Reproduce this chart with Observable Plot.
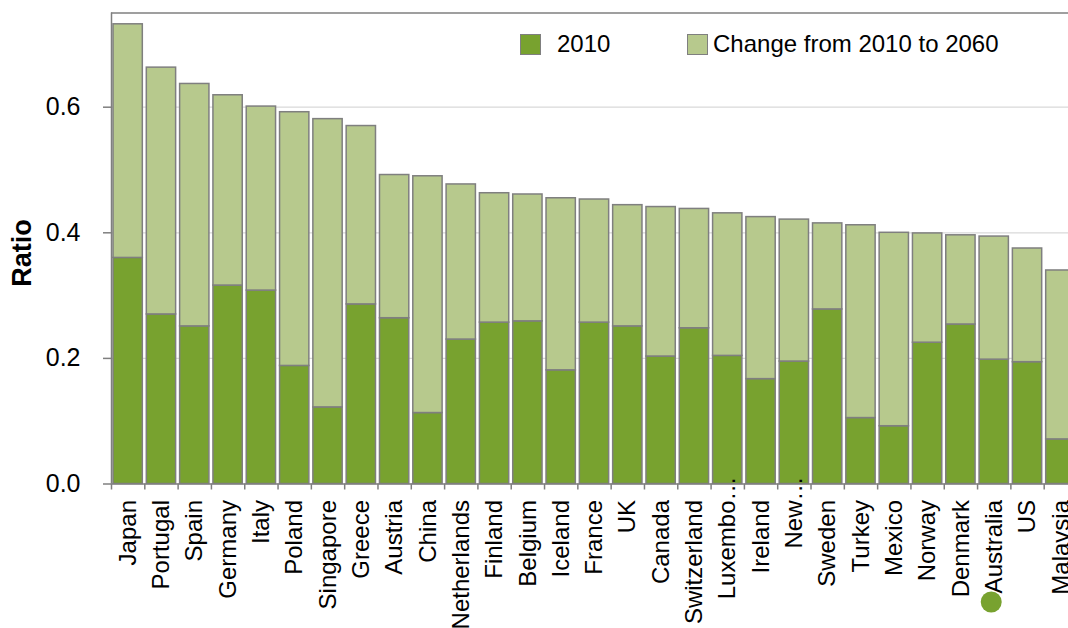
<!DOCTYPE html>
<html>
<head>
<meta charset="utf-8">
<script src="https://cdn.jsdelivr.net/npm/d3@7"></script>
<script src="https://cdn.jsdelivr.net/npm/@observablehq/plot@0.6"></script>
<style>
  html, body { margin: 0; padding: 0; overflow: hidden; background: #fff; }
  body { width: 1068px; height: 628px; position: relative; font-family: "Liberation Sans", Arial, sans-serif; }
  #chart { position: absolute; left: 0; top: 0; width: 1080px; }
  #chart svg { max-width: none !important; }
  .legend { position: absolute; top: 0; left: 0; width: 1068px; height: 60px; font-size: 24px; color: #000; }
  .legend .sw { position: absolute; top: 34px; width: 19px; height: 19px; border: 1.5px solid #7f7f7f; }
  .legend .lbl { position: absolute; top: 29px; line-height: 30px; white-space: nowrap; }
</style>
</head>
<body>
<div id="chart"></div>
<div class="legend">
  <div class="sw" style="left:520px;background:#78a22f"></div>
  <div class="lbl" style="left:557px">2010</div>
  <div class="sw" style="left:687px;background:#b7c98d"></div>
  <div class="lbl" style="left:713px">Change from 2010 to 2060</div>
</div>
<script>
// Countries, in the order they are ranked
const countries = ["Japan", "Portugal", "Spain", "Germany", "Italy", "Poland", "Singapore", "Greece",
  "Austria", "China", "Netherlands", "Finland", "Belgium", "Iceland", "France", "UK", "Canada",
  "Switzerland", "Luxembo…", "Ireland", "New…", "Sweden", "Turkey", "Mexico", "Norway", "Denmark",
  "Australia", "US", "Malavsia"];

// Ratio in 2010
const ratio2010 = [0.360, 0.270, 0.251, 0.316, 0.308, 0.188, 0.122, 0.286,
  0.264, 0.113, 0.230, 0.257, 0.259, 0.181, 0.257, 0.251, 0.203,
  0.248, 0.204, 0.167, 0.195, 0.278, 0.105, 0.092, 0.225, 0.254,
  0.198, 0.194, 0.071];

// Change in the ratio from 2010 to 2060
const change2010to2060 = [0.372, 0.393, 0.386, 0.303, 0.293, 0.404, 0.459, 0.284,
  0.228, 0.377, 0.247, 0.206, 0.202, 0.274, 0.196, 0.193, 0.238,
  0.190, 0.227, 0.258, 0.226, 0.137, 0.307, 0.308, 0.174, 0.142,
  0.196, 0.181, 0.269];

const yTicks = [0, 0.2, 0.4, 0.6];
const highlighted = ["Australia"];

const dark = "#78a22f";
const light = "#b7c98d";
const edge = "#7f7f7f";
const font = "'Liberation Sans', Arial, sans-serif";

const rows = countries.map((country, i) => ({
  country, i, base: ratio2010[i], top: ratio2010[i] + change2010to2060[i]
}));

const chart = Plot.plot({
  width: 1077,
  height: 628,
  marginLeft: 111,
  marginRight: 0,
  marginTop: 12.5,
  marginBottom: 144.5,
  style: { fontFamily: font, color: "#000", background: "transparent", maxWidth: "none" },
  x: { domain: [0, countries.length], axis: null },
  y: { domain: [0, 0.75], axis: null },
  marks: [
    Plot.gridY([0.2, 0.4, 0.6], { stroke: "#d9d9d9", strokeOpacity: 1, strokeWidth: 1.3 }),
    // 2010 level
    Plot.rectY(rows, {
      x1: "i", x2: d => d.i + 1, y1: 0, y2: "base",
      fill: dark, stroke: edge, strokeWidth: 1.5, insetLeft: 2, insetRight: 2
    }),
    // increase up to 2060
    Plot.rectY(rows, {
      x1: "i", x2: d => d.i + 1, y1: "base", y2: "top",
      fill: light, stroke: edge, strokeWidth: 1.5, insetLeft: 2, insetRight: 2
    }),
    Plot.ruleY([0.75], { stroke: edge, strokeWidth: 1.5 }),
    Plot.ruleX([0], { stroke: edge, strokeWidth: 1.5 }),
    Plot.ruleY([0], { stroke: edge, strokeWidth: 1.5 }),
    Plot.axisY({
      ticks: yTicks, tickFormat: d3.format(".1f"), tickSize: 8, tickPadding: 23,
      stroke: edge, strokeWidth: 1.5, fontSize: 25, fill: "#000", label: null
    }),
    Plot.axisX({
      ticks: d3.range(countries.length + 1), tickSize: 6, tickFormat: () => "",
      stroke: edge, strokeWidth: 1.5, label: null
    }),
    // category labels
    Plot.text(rows.filter(d => !d.country.endsWith("…")), {
      x: d => d.i + 0.5, y: 0, text: "country", rotate: -90,
      textAnchor: "end", lineAnchor: "middle", dy: 16, fontSize: 24, fill: "#000"
    }),
    Plot.text(rows.filter(d => d.country.endsWith("…")), {
      x: d => d.i + 0.5, y: 0, text: "country", rotate: -90,
      textAnchor: "end", lineAnchor: "middle", dy: -7.5, fontSize: 24, fill: "#000"
    }),
    Plot.dot(rows.filter(d => highlighted.includes(d.country)), {
      x: d => d.i + 0.5, y: 0, dx: -3, dy: 118, r: 10.5, fill: dark, stroke: "none"
    }),
    Plot.text(["Ratio"], {
      frameAnchor: "left", dx: -89, dy: 4.5, rotate: -90, fontSize: 27, fontWeight: "bold",
      textAnchor: "middle", lineAnchor: "middle", fill: "#000"
    })
  ]
});

document.getElementById("chart").appendChild(chart);
</script>
</body>
</html>
